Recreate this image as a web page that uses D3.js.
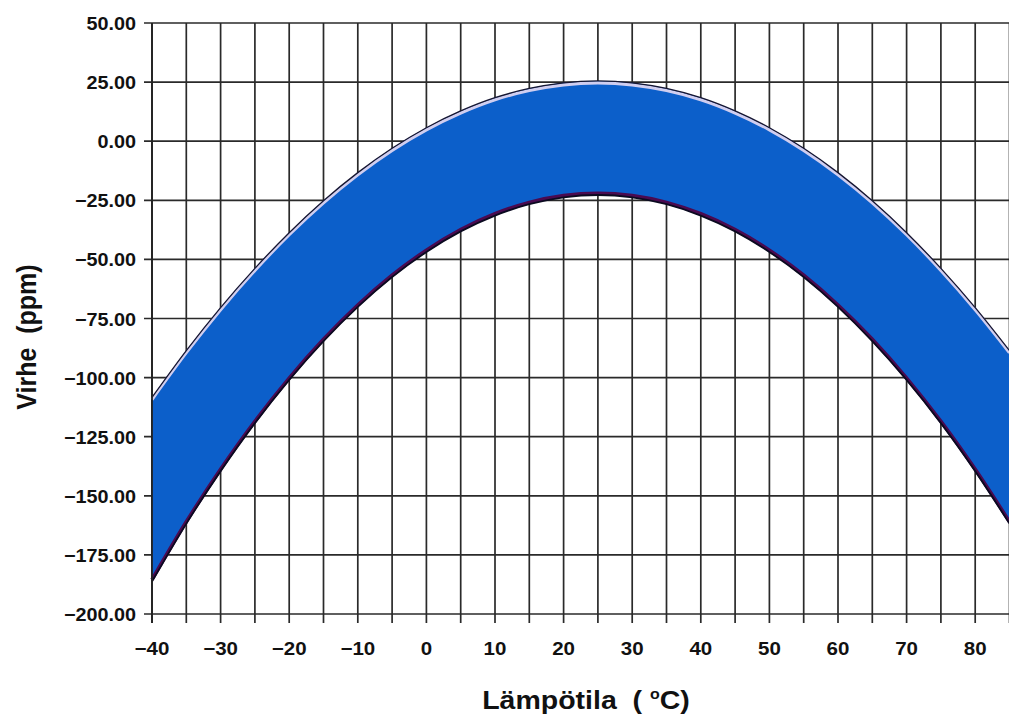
<!DOCTYPE html>
<html>
<head>
<meta charset="utf-8">
<script src="https://cdn.jsdelivr.net/npm/d3@7"></script>
<style>
  body { margin: 0; background: #fff; }
  svg { display: block; }
  text { font-family: "Liberation Sans", Arial, sans-serif; font-weight: bold; fill: #111; }
</style>
</head>
<body>
<svg id="chart"></svg>
<script>
// temperature (°C) and error band (ppm)
const temps = [-40, -35, -30, -25, -20, -15, -10, -5, 0, 5, 10, 15, 20, 25, 30, 35, 40, 45, 50, 55, 60, 65, 70, 75, 80, 85];
const upper = [-108.4, -88.6, -70.4, -53.8, -38.7, -25.2, -13.3, -3.0, 5.7, 12.8, 18.4, 22.3, 24.7, 25.5, 24.7, 22.3, 18.4, 12.8, 5.7, -3.0, -13.3, -25.2, -38.7, -53.8, -70.4, -88.6];
const lower = [-185.5, -161.0, -138.8, -118.5, -100.2, -83.8, -69.3, -56.7, -46.1, -37.4, -30.7, -25.9, -23.0, -22.0, -23.0, -25.9, -30.7, -37.4, -46.1, -56.7, -69.3, -83.8, -100.2, -118.5, -138.8, -161.0];

const xTicks = [-40, -30, -20, -10, 0, 10, 20, 30, 40, 50, 60, 70, 80];
const xGrid = d3.range(-40, 86, 5);
const yTicks = [50, 25, 0, -25, -50, -75, -100, -125, -150, -175, -200];

const W = 1009, H = 715;
const svg = d3.select("#chart").attr("width", W).attr("height", H);

const x = d3.scaleLinear().domain([-40, 85]).range([152, 1009.5]);
const y = d3.scaleLinear().domain([-200, 50]).range([614, 23]);

const fmt = v => (v < 0 ? "\u2212" : "") + Math.abs(v).toFixed(2);
const SX = 1.14; // the source text is a bit wide

// grid
const grid = svg.append("g").attr("stroke", "#2a2a2a").attr("stroke-width", 1.7);
grid.selectAll("line.v").data(xGrid).enter().append("line")
    .attr("x1", d => x(d)).attr("x2", d => x(d))
    .attr("y1", y(50)).attr("y2", y(-200) + 9);
grid.selectAll("line.h").data(yTicks).enter().append("line")
    .attr("x1", x(-40) - 8).attr("x2", W)
    .attr("y1", d => y(d)).attr("y2", d => y(d));

const pts = temps.map((t, i) => ({ t, hi: upper[i], lo: lower[i] }));

const area = d3.area().curve(d3.curveMonotoneX)
    .x(d => x(d.t)).y0(d => y(d.lo)).y1(d => y(d.hi));
const lineHi = d3.line().curve(d3.curveMonotoneX).x(d => x(d.t)).y(d => y(d.hi));
const lineLo = d3.line().curve(d3.curveMonotoneX).x(d => x(d.t)).y(d => y(d.lo));

svg.append("path").datum(pts).attr("d", area).attr("fill", "#0c5fca");

// upper edge: black outline over a pale lavender band
svg.append("path").datum(pts).attr("d", lineHi)
    .attr("transform", "translate(0,2)")
    .attr("fill", "none").attr("stroke", "#d0cef0").attr("stroke-width", 3.2);
svg.append("path").datum(pts).attr("d", lineHi)
    .attr("fill", "none").attr("stroke", "#151530").attr("stroke-width", 1.3);

// lower edge: dark purple with black underline
svg.append("path").datum(pts).attr("d", lineLo)
    .attr("fill", "none").attr("stroke", "#4a0a50").attr("stroke-width", 3.6);
svg.append("path").datum(pts).attr("d", lineLo)
    .attr("transform", "translate(0,1.8)")
    .attr("fill", "none").attr("stroke", "#0a0a20").attr("stroke-width", 1.8);

// left axis line over the band
svg.append("line")
    .attr("x1", x(-40)).attr("x2", x(-40))
    .attr("y1", y(50)).attr("y2", y(-200) + 9)
    .attr("stroke", "#222").attr("stroke-width", 1.8);

// tick labels
svg.append("g").selectAll("text").data(yTicks).enter().append("text")
    .attr("transform", d => `translate(136,${y(d) + 7}) scale(1.1,1)`)
    .attr("text-anchor", "end").attr("font-size", 18)
    .text(fmt);

svg.append("g").selectAll("text").data(xTicks).enter().append("text")
    .attr("transform", d => `translate(${x(d)},655) scale(${SX},1)`)
    .attr("text-anchor", "middle").attr("font-size", 18)
    .text(d => (d < 0 ? "\u2212" : "") + Math.abs(d));

// axis titles
svg.append("text")
    .attr("transform", `translate(36,337) rotate(-90) scale(1,${SX})`)
    .attr("text-anchor", "middle").attr("font-size", 25)
    .attr("xml:space", "preserve")
    .text("Virhe  (ppm)");

const xt = svg.append("text")
    .attr("transform", `translate(586,709) scale(${SX},1)`)
    .attr("text-anchor", "middle").attr("font-size", 25)
    .attr("xml:space", "preserve");
xt.append("tspan").text("Lämpötila  ( ");
xt.append("tspan").attr("font-size", 14).attr("dy", -10).text("o");
xt.append("tspan").attr("dy", 10).text("C)");
</script>
</body>
</html>
